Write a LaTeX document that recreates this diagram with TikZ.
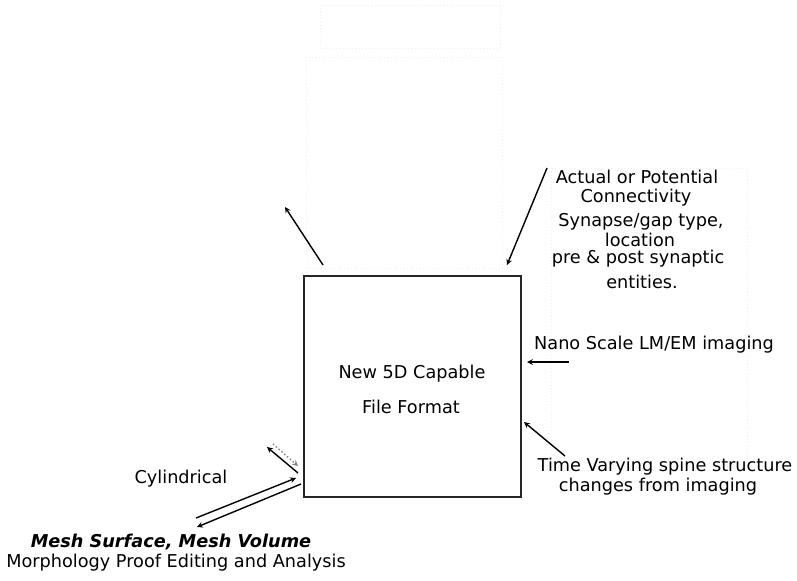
\documentclass[tikz,border=0pt]{standalone}
\usepackage{fontspec}
\setmainfont{DejaVu Sans}
\begin{document}
\begin{tikzpicture}[
                x=0.03cm, y=-0.03cm,
                formatbox/.style={
                    draw=black!85,
                    line width=1.4pt,
                    rectangle,
                    minimum width=217*0.03cm,
                    minimum height=221*0.03cm
                },
                txt/.style={
                    inner sep=0pt,
                    align=center,
                    font=\fontsize{15.1}{18}\selectfont
                },
                arrow/.style={
                    ->,
                    line width=1.2pt,
                    >=stealth
                },
                ghost/.style={
                    draw=black!6,
                    dotted,
                    line width=0.8pt
                }
            ]
                \useasboundingbox (0,0) rectangle (797,580);

                % faint outlines
                \draw[ghost] (320,5) rectangle (500,48);
                \draw[ghost] (306,57) rectangle (502,268);
                \draw[ghost] (551,168) rectangle (747,470);

                \node[formatbox] (fmt) at (412.5,386.5) {};
                \node[txt] (fmt1) at (412,374) {New 5D Capable};
                \node[txt] (fmt2) at (411,407) {File Format};

                \node[txt] (conn1) at (637,177) {Actual or Potential};
                \node[txt] (conn2) at (636,198) {Connectivity};
                \node[txt] (syn1) at (641,222) {Synapse/gap type,};
                \node[txt] (syn2) at (640,239.5) {location};
                \node[txt] (syn3) at (638,259) {pre \& post synaptic};
                \node[txt] (syn4) at (642,282) {entities.};
                \node[txt] (nano) at (654,345) {Nano Scale LM/EM imaging};
                \node[txt] (time1) at (665,467) {Time Varying spine structure};
                \node[txt] (time2) at (658,487) {changes from imaging};
                \node[txt] (cyl) at (181,479) {Cylindrical};
                \node[txt] (mesh) at (171,542) {\bfseries\itshape Mesh Surface, Mesh Volume};
                \node[txt] (morph) at (176,563) {Morphology Proof Editing and Analysis};

                \coordinate (up1) at (323,265);
                \coordinate (up2) at (285,207);
                \coordinate (conn0) at (547,168);
                \coordinate (conn3) at (507,265);
                \coordinate (nano0) at (569,362);
                \coordinate (nano1) at (527,362);
                \coordinate (time0) at (565,456);
                \coordinate (time3) at (524,422);
                \coordinate (cyl0) at (298,473);
                \coordinate (cyl1) at (267,447);
                \coordinate (dot0) at (273,444);
                \coordinate (dot1) at (298,466);
                \coordinate (mesh0) at (196,518);
                \coordinate (mesh1) at (296,478);
                \coordinate (mesh2) at (301,484);
                \coordinate (mesh3) at (197,527);

                \draw[arrow] (up1) -- (up2);
                \draw[arrow] (conn0) -- (conn3);
                \draw[arrow] (nano0) -- (nano1);
                \draw[arrow] (time0) -- (time3);
                \draw[arrow] (cyl0) -- (cyl1);
                \draw[arrow, dotted, draw=black!50] (dot0) -- (dot1);
                \draw[arrow] (mesh0) -- (mesh1);
                \draw[arrow] (mesh2) -- (mesh3);
        \end{tikzpicture}
\end{document}
